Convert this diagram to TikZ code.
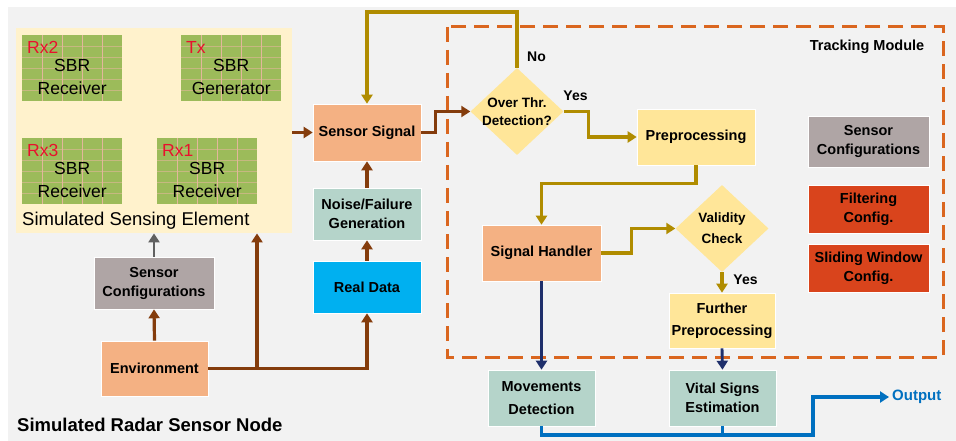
\documentclass[tikz,border=0pt]{standalone}
\usepackage{fontspec}
\setmainfont{Liberation Sans}
\usetikzlibrary{arrows.meta,shapes.geometric,calc}

\definecolor{bggray}{HTML}{F2F2F2}
\definecolor{panelyellow}{HTML}{FFF2CC}
\definecolor{tilegreen}{HTML}{9CBB5A}
\definecolor{tileline}{HTML}{E2B79A}
\definecolor{tagred}{HTML}{E8112D}
\definecolor{salmon}{HTML}{F4B183}
\definecolor{paleteal}{HTML}{B5D4CA}
\definecolor{skyblue}{HTML}{00B0F0}
\definecolor{mauvegray}{HTML}{AFA5A5}
\definecolor{redorange}{HTML}{D9441C}
\definecolor{softyellow}{HTML}{FFE699}
\definecolor{dashorange}{HTML}{DA661F}
\definecolor{brownline}{HTML}{843C0C}
\definecolor{oliveline}{HTML}{B08C00}
\definecolor{navyline}{HTML}{1F2F6B}
\definecolor{blueline}{HTML}{0070C0}
\definecolor{grayline}{HTML}{606060}

\newcommand\boxfont{\fontsize{14.5}{19}\selectfont\bfseries}
\newcommand\dmdfont{\fontsize{13.5}{18}\selectfont\bfseries}
\newcommand\tilefont{\fontsize{17.5}{22}\selectfont}

% one SBR antenna tile: name, left, top, tag, second line
\newcommand\sbrtile[5]{%
  \node[tilebox, anchor=north west] (#1) at (#2,#3) {};
  \foreach \gx in {20,40,60,80}
    \draw[tilegrid] ($(#1.north west)+(\gx,0)$) -- ($(#1.south west)+(\gx,0)$);
  \foreach \gy in {11,22,33,44,55}
    \draw[tilegrid, draw opacity=0.6] ($(#1.north west)+(0,\gy)$) -- ($(#1.north east)+(0,\gy)$);
  \node[tilefont, text=tagred, anchor=west, inner sep=0] at ($(#1.north west)+(5,12)$) {#4};
  \node[tilefont, inner sep=0] at ($(#1.center)+(0,-3)$) {SBR};
  \node[tilefont, inner sep=0] at ($(#1.center)+(0,20)$) {#5};
}

\begin{document}
\begin{tikzpicture}[x=1pt, y=-1pt,
  tilebox/.style={fill=tilegreen, minimum width=100, minimum height=66, inner sep=0},
  tilegrid/.style={draw=tileline, line width=0.8pt},
  tilefont/.style={font=\tilefont},
  blk/.style={inner sep=0, align=center, font=\boxfont, draw=white, line width=0.6pt},
  dmd/.style={diamond, inner sep=0, fill=softyellow, minimum width=93, minimum height=87},
  dmdtext/.style={inner sep=0, align=center, font=\dmdfont},
  tip/.style={-{Triangle[length=9pt, width=11pt]}},
  brownarrow/.style={tip, draw=brownline, line width=3.2pt},
  olivearrow/.style={tip, draw=oliveline, line width=3.2pt},
  navyarrow/.style={tip, draw=navyline, line width=2.9pt},
  bluearrow/.style={tip, draw=blueline, line width=3.3pt},
  grayarrow/.style={tip, draw=grayline, line width=2.9pt},
  lbl/.style={inner sep=0, font=\boxfont}
]
\useasboundingbox (0,0) rectangle (956,441);
\fill[white] (0,0) rectangle (956,441);
\fill[bggray] (8,7) rectangle (956,441);

% ---- simulated sensing element ----
\node[fill=panelyellow, minimum width=276, minimum height=205, inner sep=0, anchor=north west] (panel) at (16,28) {};
\sbrtile{rxtwo}{22}{35}{Rx2}{Receiver}
\sbrtile{tx}{181}{35}{Tx}{Generator}
\sbrtile{rxthree}{22}{138}{Rx3}{Receiver}
\sbrtile{rxone}{157}{138}{Rx1}{Receiver}
\node[anchor=west, inner sep=0, font=\fontsize{18.5}{22}\selectfont] (selabel) at (22,221) {Simulated Sensing Element};

% ---- left column ----
\node[blk, fill=mauvegray, minimum width=120, minimum height=52] (scl) at (154,283) {Sensor\\Configurations};
\node[blk, fill=salmon, minimum width=107, minimum height=55] (env) at (154.5,368.5) {Environment};
\node[blk, fill=salmon, minimum width=108, minimum height=57] (sensig) at (367,132.5) {Sensor Signal};
\node[blk, fill=paleteal, minimum width=108, minimum height=52] (noise) at (367,214) {Noise/Failure\\Generation};
\node[blk, fill=skyblue, minimum width=108, minimum height=52] (real) at (367,287) {Real Data};
\node[anchor=west, inner sep=0, font=\fontsize{18.5}{22}\selectfont\bfseries] (nodelabel) at (17,425) {Simulated Radar Sensor Node};

% ---- tracking module ----
\draw[dashorange, line width=3pt, dash pattern=on 15pt off 8pt] (447,27) rectangle (943,357);
\node[lbl] (tmlabel) at (867,47) {Tracking Module};
\node[dmd] (ot) at (517,111.5) {};
\node[dmdtext] at (ot) {Over Thr.\\Detection?};
\node[blk, fill=softyellow, minimum width=118, minimum height=56] (pre) at (696,137) {Preprocessing};
\node[blk, fill=salmon, minimum width=119, minimum height=56] (sh) at (541.5,253) {Signal Handler};
\node[dmd] (va) at (722,228.5) {};
\node[dmdtext, font=\fontsize{13.5}{21}\selectfont\bfseries] at (va) {Validity\\Check};
\node[blk, fill=softyellow, minimum width=106, minimum height=55] (fp) at (722,320.5) {Further\\[3pt]Preprocessing};
\node[blk, fill=mauvegray, minimum width=121, minimum height=51] (scr) at (868.5,141.5) {Sensor\\Configurations};
\node[blk, fill=redorange, minimum width=121, minimum height=48] (filt) at (868.5,209) {Filtering\\Config.};
\node[blk, fill=redorange, minimum width=121, minimum height=48] (slide) at (868.5,268) {Sliding Window\\Config.};

% ---- outputs ----
\node[blk, fill=paleteal, minimum width=107, minimum height=56] (mov) at (541.5,398) {Movements\\[4pt]Detection};
\node[blk, fill=paleteal, minimum width=107, minimum height=56] (vital) at (722.5,398) {Vital Signs\\Estimation};
\node[anchor=west, inner sep=0, text=blueline, font=\fontsize{15}{18}\selectfont\bfseries] (out) at (892,397) {Output};

% ---- labels on branches ----
\node[lbl, font=\fontsize{14}{17}\selectfont\bfseries] (nolabel) at (536.5,57) {No};
\node[lbl, font=\fontsize{14}{17}\selectfont\bfseries] (yeslabel) at (575.5,96) {Yes};
\node[lbl, font=\fontsize{14}{17}\selectfont\bfseries] (yeslabeltwo) at (745.5,280) {Yes};

% ---- helper points ----
\coordinate (topline) at (0,12);
\coordinate (branch) at (257,368.5);
\coordinate (obend) at (813,435);
\coordinate (outtip) at (889,397);

% ---- connectors ----
\draw[brownarrow] (env.north) -- (scl.south);
\draw[grayarrow] (scl.north) -- (scl.north |- panel.south);
\draw[brownarrow] (env.east) -| (real.south);
\draw[brownarrow] (branch) -- (branch |- panel.south);
\draw[brownarrow] (real.north) -- (noise.south);
\draw[brownarrow] (noise.north) -- (sensig.south);
\draw[brownarrow] (panel.east |- sensig) -- (sensig.west);
\draw[brownarrow] (sensig.east) -- ++(14,0) |- (ot.west);

\draw[olivearrow] (ot.north) -- (ot.north |- topline) -| (sensig.north);
\draw[olivearrow] (ot.east) -- ++(25,0) |- (pre.west);
\draw[olivearrow] (pre.south) -- ++(0,18) -| (sh.north);
\draw[olivearrow] (sh.east) -- ++(30,0) |- (va.west);
\draw[olivearrow] (va.south) -- (fp.north);

\draw[navyarrow] (sh.south) -- (mov.north);
\draw[navyarrow] (fp.south) -- (vital.north);

\draw[bluearrow] (mov.south) |- (obend) |- (outtip);
\draw[blueline, line width=3.3pt] (vital.south) -- (vital.south |- obend);
\end{tikzpicture}
\end{document}
